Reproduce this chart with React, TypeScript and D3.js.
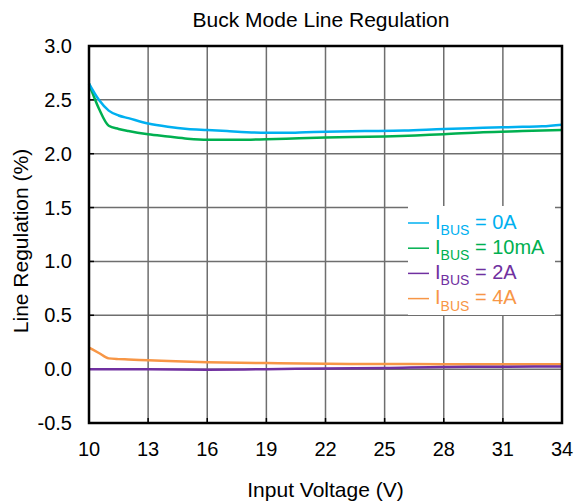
import { useRef, useEffect } from 'react'
import * as d3 from 'd3'

const xTicks = [10, 13, 16, 19, 22, 25, 28, 31, 34]
const yTicks = [-0.5, 0, 0.5, 1.0, 1.5, 2.0, 2.5, 3.0]

const vBlue = [10, 10.5, 11, 11.5, 12, 13, 14, 15, 16, 17, 18, 19, 20, 21, 22, 24, 26, 28, 30, 32, 33, 34]
const iBus0A = [2.65, 2.5, 2.4, 2.355, 2.33, 2.28, 2.25, 2.23, 2.22, 2.21, 2.2, 2.195, 2.195, 2.2, 2.205, 2.21, 2.215, 2.23, 2.24, 2.25, 2.255, 2.27]

const vGreen = [10, 10.5, 11, 11.5, 12, 13, 14, 15, 16, 17, 18, 19, 20, 22, 25, 28, 30, 32, 34]
const iBus10mA = [2.65, 2.42, 2.26, 2.23, 2.21, 2.18, 2.16, 2.14, 2.13, 2.13, 2.13, 2.135, 2.14, 2.15, 2.16, 2.18, 2.2, 2.21, 2.22]

const vPurple = [10, 13, 16, 19, 22, 25, 28, 31, 34]
const iBus2A = [0, 0, -0.005, 0, 0.005, 0.01, 0.02, 0.022, 0.025]

const vOrange = [10, 10.5, 11, 11.5, 12, 13, 16, 19, 22, 25, 28, 31, 34]
const iBus4A = [0.2, 0.15, 0.1, 0.093, 0.09, 0.082, 0.065, 0.056, 0.05, 0.048, 0.046, 0.046, 0.046]

const seriesNames = ['0A', '10mA', '2A', '4A']
const seriesColors = ['#00b0f0', '#00b050', '#7030a0', '#f79646']

export default function App() {
  const svgRef = useRef<SVGSVGElement>(null)
  const width = 577
  const height = 503

  useEffect(() => {
    if (!svgRef.current) return
    const svg = d3.select(svgRef.current)
    svg.selectAll('*').remove()

    const font = 'Arial, "Liberation Sans", sans-serif'
    const margin = { top: 46, left: 89 }
    const w = 562 - margin.left
    const h = 423 - margin.top

    const x = d3.scaleLinear().domain([10, 34]).range([0, w])
    const y = d3.scaleLinear().domain([-0.5, 3.0]).range([h, 0])

    const g = svg.append('g').attr('transform', `translate(${margin.left},${margin.top})`)

    // grid
    g.selectAll('.vgrid')
      .data(xTicks.slice(1, -1))
      .join('line')
      .attr('x1', (d) => x(d)).attr('x2', (d) => x(d))
      .attr('y1', 0).attr('y2', h)
      .attr('stroke', '#6e6e6e')
      .attr('stroke-width', 1.5)
    g.selectAll('.hgrid')
      .data(yTicks.slice(1, -1))
      .join('line')
      .attr('x1', 0).attr('x2', w)
      .attr('y1', (d) => y(d)).attr('y2', (d) => y(d))
      .attr('stroke', '#6e6e6e')
      .attr('stroke-width', 1.5)

    // small inner ticks
    g.selectAll('.xtick')
      .data(xTicks.slice(1, -1))
      .join('line')
      .attr('x1', (d) => x(d)).attr('x2', (d) => x(d))
      .attr('y1', h).attr('y2', h - 5)
      .attr('stroke', '#000').attr('stroke-width', 1.5)
    g.selectAll('.ytick')
      .data(yTicks.slice(1, -1))
      .join('line')
      .attr('x1', 0).attr('x2', 5)
      .attr('y1', (d) => y(d)).attr('y2', (d) => y(d))
      .attr('stroke', '#000').attr('stroke-width', 1.5)

    // series
    const series = [
      { xs: vBlue, ys: iBus0A },
      { xs: vGreen, ys: iBus10mA },
      { xs: vPurple, ys: iBus2A },
      { xs: vOrange, ys: iBus4A },
    ]
    const line = d3.line<[number, number]>()
      .x((d) => x(d[0]))
      .y((d) => y(d[1]))
      .curve(d3.curveMonotoneX)

    ;[3, 2, 1, 0].forEach((i) => {
      const s = series[i]
      const pts = s.xs.map((v, j) => [v, s.ys[j]] as [number, number])
      g.append('path')
        .datum(pts)
        .attr('d', line)
        .attr('fill', 'none')
        .attr('stroke', seriesColors[i])
        .attr('stroke-width', 2.5)
    })

    // frame
    g.append('rect')
      .attr('x', 0).attr('y', 0)
      .attr('width', w).attr('height', h)
      .attr('fill', 'none')
      .attr('stroke', '#000')
      .attr('stroke-width', 2.5)

    // legend
    const lg = g.append('g').attr('transform', `translate(${408 - margin.left},${206 - margin.top})`)
    lg.append('rect')
      .attr('width', 147).attr('height', 109)
      .attr('fill', '#fff')
    seriesNames.forEach((name, i) => {
      const base = 22.5 + i * 25.2
      lg.append('line')
        .attr('x1', 0).attr('x2', 21)
        .attr('y1', base - 5.5).attr('y2', base - 5.5)
        .attr('stroke', seriesColors[i])
        .attr('stroke-width', 1.5)
      const t = lg.append('text')
        .attr('x', 27).attr('y', base)
        .attr('fill', seriesColors[i])
        .attr('font-family', font)
        .attr('font-size', 20)
      t.append('tspan').text('I')
      t.append('tspan').attr('dy', 6.5).attr('font-size', 14).text('BUS')
      t.append('tspan').attr('dy', -6.5).text(` = ${name}`)
    })

    // tick labels
    g.selectAll('.xlab')
      .data(xTicks)
      .join('text')
      .attr('x', (d) => x(d))
      .attr('y', h + 33)
      .attr('text-anchor', 'middle')
      .attr('font-family', font)
      .attr('font-size', 20)
      .attr('fill', '#000')
      .text((d) => d)
    g.selectAll('.ylab')
      .data(yTicks)
      .join('text')
      .attr('x', -17)
      .attr('y', (d) => y(d) + 7)
      .attr('text-anchor', 'end')
      .attr('font-family', font)
      .attr('font-size', 20)
      .attr('fill', '#000')
      .text((d) => d.toFixed(1))

    // titles
    svg.append('text')
      .attr('x', 321).attr('y', 26.5)
      .attr('text-anchor', 'middle')
      .attr('font-family', font)
      .attr('font-size', 21)
      .text('Buck Mode Line Regulation')
    svg.append('text')
      .attr('x', margin.left + w / 2).attr('y', 497)
      .attr('text-anchor', 'middle')
      .attr('font-family', font)
      .attr('font-size', 21)
      .text('Input Voltage (V)')
    svg.append('text')
      .attr('transform', `translate(28,${241}) rotate(-90)`)
      .attr('text-anchor', 'middle')
      .attr('font-family', font)
      .attr('font-size', 21)
      .text('Line Regulation (%)')
  }, [])

  return (
    <svg
      ref={svgRef}
      width={width}
      height={height}
      style={{ position: 'absolute', left: 0, top: 0, background: '#fff' }}
    />
  )
}
